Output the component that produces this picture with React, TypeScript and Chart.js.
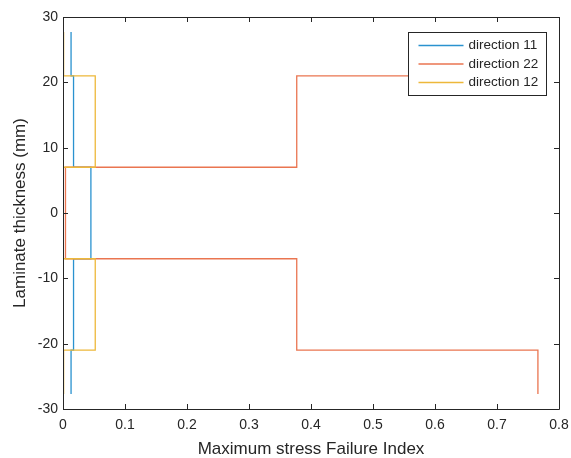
import React, { useEffect, useRef } from "react";
import { Chart, registerables } from "chart.js";

Chart.register(...registerables);

// Ply boundaries (mm), top to bottom
const plyTop = [27.7, 21, 7, -7, -21];
const plyBottom = [21, 7, -7, -21, -27.7];

// Maximum stress failure index per ply
const dir11 = [0.013, 0.017, 0.045, 0.017, 0.013];
const dir22 = [0.766, 0.377, 0.004, 0.377, 0.766];
const dir12 = [0.001, 0.052, 0.0005, 0.052, 0.001];

const seriesLabels = ["direction 11", "direction 22", "direction 12"];
const seriesColors = ["#2a92cf", "#ea7550", "#edb83a"];

const xTicks = [0, 0.1, 0.2, 0.3, 0.4, 0.5, 0.6, 0.7, 0.8];
const yTicks = [-30, -20, -10, 0, 10, 20, 30];

const FONT = "'Liberation Sans', Arial, Helvetica, sans-serif";
const AXIS_COLOR = "#262626";

function stepPoints(values: number[]) {
  const pts: { x: number; y: number }[] = [];
  values.forEach((v, i) => {
    pts.push({ x: v, y: plyTop[i] });
    pts.push({ x: v, y: plyBottom[i] });
  });
  return pts;
}

const boxPlugin = {
  id: "matlabBox",
  afterDatasetsDraw(chart: any) {
    const { ctx, chartArea } = chart;
    const { left, right, top, bottom } = chartArea;
    const xs = chart.scales.x;
    const ys = chart.scales.y;
    const tl = 5;
    ctx.save();
    ctx.strokeStyle = AXIS_COLOR;
    ctx.lineWidth = 1;
    ctx.beginPath();
    ctx.rect(Math.round(left) + 0.5, Math.round(top) + 0.5, Math.round(right - left), Math.round(bottom - top));
    ctx.stroke();
    ctx.beginPath();
    xTicks.forEach((t) => {
      const px = Math.round(xs.getPixelForValue(t)) + 0.5;
      ctx.moveTo(px, bottom);
      ctx.lineTo(px, bottom - tl);
      ctx.moveTo(px, top);
      ctx.lineTo(px, top + tl);
    });
    yTicks.forEach((t) => {
      const py = Math.round(ys.getPixelForValue(t)) + 0.5;
      ctx.moveTo(left, py);
      ctx.lineTo(left + tl, py);
      ctx.moveTo(right, py);
      ctx.lineTo(right - tl, py);
    });
    ctx.stroke();

    // legend
    const boxW = 138;
    const boxH = 63;
    const bx = Math.round(right - 13 - boxW) + 0.5;
    const by = Math.round(top + 15) + 0.5;
    ctx.fillStyle = "#ffffff";
    ctx.fillRect(bx, by, boxW, boxH);
    ctx.strokeStyle = AXIS_COLOR;
    ctx.strokeRect(bx, by, boxW, boxH);
    ctx.font = `13.5px ${FONT}`;
    ctx.textBaseline = "middle";
    ctx.textAlign = "left";
    chart.data.datasets.forEach((ds: any, i: number) => {
      const cy = by + 13 + i * 18.5;
      ctx.strokeStyle = ds.borderColor;
      ctx.lineWidth = 1.3;
      ctx.beginPath();
      ctx.moveTo(bx + 10, cy);
      ctx.lineTo(bx + 55, cy);
      ctx.stroke();
      ctx.fillStyle = AXIS_COLOR;
      ctx.fillText(ds.label, bx + 60, cy);
    });
    ctx.restore();
  },
};

export default function App() {
  const ref = useRef<HTMLCanvasElement | null>(null);
  useEffect(() => {
    if (!ref.current) return;
    const allSeries = [dir11, dir22, dir12];
    const chart = new Chart(ref.current, {
      type: "scatter",
      data: {
        datasets: allSeries.map((s, i) => ({
          label: seriesLabels[i],
          data: stepPoints(s),
          showLine: true,
          borderColor: seriesColors[i],
          backgroundColor: seriesColors[i],
          borderWidth: 1.3,
          pointRadius: 0,
          pointHoverRadius: 0,
          tension: 0,
          order: 3 - i,
        })),
      },
      options: {
        responsive: false,
        animation: false,
        events: [],
        layout: { padding: { top: 17, right: 12, left: 0, bottom: 0 } },
        plugins: {
          legend: { display: false },
          tooltip: { enabled: false },
        },
        scales: {
          x: {
            type: "linear",
            min: 0,
            max: 0.8,
            afterFit: (s: any) => {
              s.height = 49;
              s.paddingLeft = 0;
              s.paddingRight = 0;
            },
            afterBuildTicks: (s: any) => {
              s.ticks = xTicks.map((v) => ({ value: v }));
            },
            grid: { display: false, drawTicks: false },
            border: { display: false },
            ticks: {
              padding: 8,
              color: AXIS_COLOR,
              font: { family: FONT, size: 14 },
              maxRotation: 0,
              callback: (v: any) => String(Math.round(Number(v) * 10) / 10),
            },
            title: {
              display: true,
              text: "Maximum stress Failure Index",
              color: AXIS_COLOR,
              font: { family: FONT, size: 17, lineHeight: 1 },
              padding: { top: 0, bottom: 0 },
            },
          },
          y: {
            type: "linear",
            min: -30,
            max: 30,
            afterFit: (s: any) => {
              s.width = 63;
              s.paddingTop = 0;
              s.paddingBottom = 0;
            },
            afterBuildTicks: (s: any) => {
              s.ticks = yTicks.map((v) => ({ value: v }));
            },
            grid: { display: false, drawTicks: false },
            border: { display: false },
            ticks: {
              padding: 5,
              color: AXIS_COLOR,
              font: { family: FONT, size: 14 },
              callback: (v: any) => String(v),
            },
            title: {
              display: true,
              text: "Laminate thickness (mm)",
              color: AXIS_COLOR,
              font: { family: FONT, size: 17, lineHeight: 1 },
              padding: { top: 12, bottom: 0 },
            },
          },
        },
      },
      plugins: [boxPlugin],
    });
    return () => chart.destroy();
  }, []);
  return (
    <div style={{ position: "absolute", left: 0, top: 0, width: 571, height: 458, background: "#ffffff" }}>
      <canvas ref={ref} width={571} height={458} />
    </div>
  );
}
